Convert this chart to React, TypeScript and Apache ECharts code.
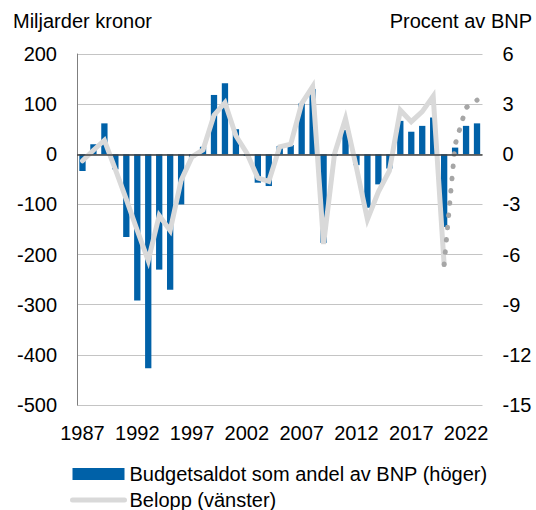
import React, { useEffect, useRef } from "react";
import * as echarts from "echarts";

const years = [
  "1987", "1988", "1989", "1990", "1991", "1992", "1993", "1994", "1995", "1996",
  "1997", "1998", "1999", "2000", "2001", "2002", "2003", "2004", "2005", "2006",
  "2007", "2008", "2009", "2010", "2011", "2012", "2013", "2014", "2015", "2016",
  "2017", "2018", "2019", "2020", "2021", "2022", "2023",
];

// Budgetsaldot som andel av BNP (percent, right axis)
const sharePct = [
  -1.0, 0.6, 1.85, -0.9, -4.95, -8.75, -12.8, -6.9, -8.1, -3.0,
  -0.2, 0.45, 3.55, 4.25, 1.5, -0.1, -1.7, -1.9, 0.5, 0.55,
  3.05, 3.9, -5.3, -0.1, 1.45, -0.65, -3.2, -1.8, -0.85, 2.0,
  1.35, 1.7, 2.2, -4.35, 0.4, 1.7, 1.85,
];

// Belopp (billion SEK, left axis) – outcome
const amountActual: (number | null)[] = [
  -13, 8, 28, -30, -90, -152, -212, -122, -152, -52,
  -5, 9, 78, 103, 37, 2, -47, -54, 15, 20,
  101, 135, -179, 1, 71, -27, -130, -75, -33, 88,
  65, 85, 116, -220, null, null, null,
];

// Belopp (billion SEK, left axis) – forecast (dotted)
const amountForecast: (number | null)[] = [
  null, null, null, null, null, null, null, null, null, null,
  null, null, null, null, null, null, null, null, null, null,
  null, null, null, null, null, null, null, null, null, null,
  null, null, null, -220, 19, 93, 108,
];

const leftTicks = { min: -500, max: 200, interval: 100 };
const rightTicks = { min: -15, max: 6, interval: 3 };

const barName = "Budgetsaldot som andel av BNP (höger)";
const lineName = "Belopp (vänster)";
const leftTitle = "Miljarder kronor";
const rightTitle = "Procent av BNP";

const FONT = "'Liberation Sans', Arial, Helvetica, sans-serif";

export default function App() {
  const ref = useRef<HTMLDivElement | null>(null);

  useEffect(() => {
    document.body.style.margin = "0";
    if (!ref.current) return;
    const chart = echarts.init(ref.current, null, { renderer: "svg" });
    chart.setOption({
      animation: false,
      backgroundColor: "#ffffff",
      textStyle: { fontFamily: FONT },
      grid: { left: 77, right: 53.5, top: 54, bottom: 105, containLabel: false },
      graphic: [
        {
          type: "text",
          left: 13,
          top: 11,
          style: { text: leftTitle, font: `20px ${FONT}`, fill: "#000" },
        },
        {
          type: "text",
          right: 4,
          top: 11,
          style: { text: rightTitle, font: `20px ${FONT}`, fill: "#000" },
        },
      ],
      legend: {
        orient: "vertical",
        left: 70,
        top: 464,
        itemWidth: 52,
        itemHeight: 12,
        itemGap: 6,
        padding: 0,
        selectedMode: false,
        textStyle: { fontSize: 20, color: "#000", fontFamily: FONT, lineHeight: 20 },
        data: [
          { name: barName, icon: "rect" },
          {
            name: lineName,
            itemStyle: { opacity: 0 },
            lineStyle: { width: 5, color: "#d9d9d9", cap: "round" },
          },
        ],
      },
      xAxis: {
        type: "category",
        data: years,
        boundaryGap: true,
        axisLine: { show: false },
        axisTick: { show: false },
        axisLabel: { interval: 4, fontSize: 20, color: "#000", margin: 18, fontFamily: FONT },
        splitLine: { show: false },
      },
      yAxis: [
        {
          type: "value",
          min: leftTicks.min,
          max: leftTicks.max,
          interval: leftTicks.interval,
          axisLine: { show: true, lineStyle: { color: "#7f7f7f", width: 1 } },
          axisTick: { show: false },
          axisLabel: { fontSize: 20, color: "#000", margin: 20, fontFamily: FONT },
          splitLine: { show: true, lineStyle: { color: "#c4c4c4", width: 1 } },
        },
        {
          type: "value",
          min: rightTicks.min,
          max: rightTicks.max,
          interval: rightTicks.interval,
          position: "right",
          axisLine: { show: false },
          axisTick: { show: false },
          axisLabel: { fontSize: 20, color: "#000", margin: 20, fontFamily: FONT },
          splitLine: { show: false },
        },
      ],
      series: [
        {
          name: barName,
          type: "bar",
          yAxisIndex: 1,
          data: sharePct,
          barWidth: 6.3,
          itemStyle: { color: "#0061a8" },
          z: 2,
          markLine: {
            silent: true,
            symbol: "none",
            label: { show: false },
            lineStyle: { color: "#404040", width: 1.5, type: "solid" },
            data: [{ yAxis: 0 }],
          },
        },
        {
          name: lineName,
          type: "line",
          yAxisIndex: 0,
          data: amountActual,
          symbol: "none",
          connectNulls: false,
          lineStyle: { color: "#d9d9d9", width: 5, cap: "round", join: "miter" },
          itemStyle: { color: "#d9d9d9" },
          z: 3,
        },
        {
          name: "Prognos",
          type: "line",
          yAxisIndex: 0,
          data: amountForecast,
          symbol: "none",
          lineStyle: { color: "#a6a6a6", width: 5, type: [0.5, 11.8], cap: "round" },
          itemStyle: { color: "#a6a6a6" },
          z: 4,
        },
      ],
    });
    return () => chart.dispose();
  }, []);

  return (
    <div
      ref={ref}
      style={{ position: "fixed", left: 0, top: 0, width: 536, height: 510 }}
    />
  );
}
